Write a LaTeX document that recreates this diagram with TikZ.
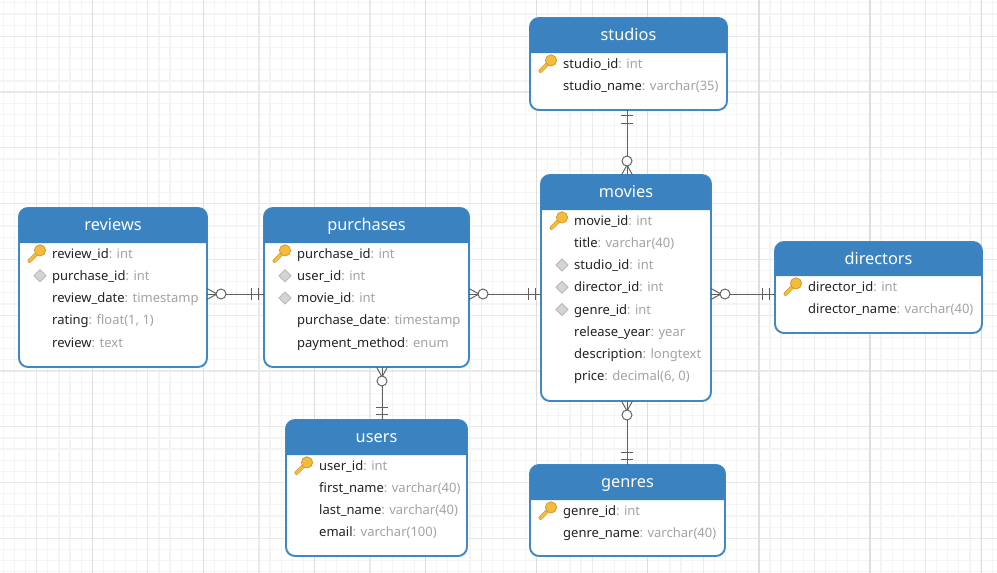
\documentclass[tikz,border=0pt]{standalone}
\usepackage{fontspec}
\setmainfont{Noto Sans}
\definecolor{hdrblue}{HTML}{3A83C0}
\definecolor{edgeblue}{HTML}{3F88C5}
\definecolor{typegrey}{HTML}{A3A3A3}
\definecolor{fieldblack}{HTML}{222222}
\definecolor{connector}{HTML}{5F5F5F}
\definecolor{keyfill}{HTML}{F3BC3E}
\definecolor{keyline}{HTML}{D6982A}
\definecolor{gridminor}{HTML}{F4F4F4}
\definecolor{gridmid}{HTML}{E9E9E9}
\definecolor{gridmajor}{HTML}{DEDEDE}
\tikzset{
  x=1pt,y=-1pt,
  tablebox/.style={draw=edgeblue,fill=white,line width=1.9pt,rounded corners=9pt,inner sep=0pt,outer sep=0pt,anchor=north west},
  titletext/.style={text=white,font=\fontsize{16.3}{18}\selectfont,inner sep=0pt,anchor=base},
  rowtext/.style={anchor=base west,inner sep=0pt,font=\fontsize{13}{15}\selectfont,text=fieldblack},
  conn/.style={draw=connector,line width=.95pt},
  pics/manyopt/.style={code={
    \draw[conn] (0,-5.5) -- (10,0) -- (0,5.5);
    \draw[conn,fill=white] (14,0) circle[radius=5];
  }},
  pics/onlyone/.style={code={
    \draw[conn] (5.5,-6) -- (5.5,6);
    \draw[conn] (13,-6) -- (13,6);
  }},
  pics/pkkey/.style={code={
    \draw[keyline,line width=4pt,line cap=round] (2,-2) -- (-7.5,7.5);
    \draw[keyfill,line width=2.7pt,line cap=round] (2,-2) -- (-7.5,7.5);
    \draw[keyline,fill=keyfill,line width=.8pt] (3,-3) circle[radius=5.6];
  }},
  pics/fkmark/.style={code={
    \draw[draw=black!28,fill=black!17,line width=.9pt] (-6,0) -- (0,-6) -- (6,0) -- (0,6) -- cycle;
  }},
}
\newcommand{\erdtable}[8]{%
  % #1 name, #2 x1, #3 y1, #4 x2, #5 y2, #6 header height, #7 text x, #8 rows
  \pgfmathsetlengthmacro{\tw}{#4-#2}%
  \pgfmathsetlengthmacro{\th}{#5-#3}%
  \node[tablebox,minimum width=\tw,minimum height=\th] (#1) at (#2,#3) {};
  \fill[hdrblue] ([yshift=-#6 pt]#1.north west) [rounded corners=9pt] -- (#1.north west) -- (#1.north east) [sharp corners] -- ([yshift=-#6 pt]#1.north east) -- cycle;
  \node[titletext] (#1title) at ([yshift=-22.5pt]#1.north) {#1};
  \foreach \kind/\field/\ftype [count=\i] in {#8} {
    \pgfmathsetmacro{\rowy}{#3+#6+10.4+22.25*(\i-1)}
    \if k\kind \pic at (#7-15,\rowy) {pkkey};\fi
    \if d\kind \pic at (#7-12,\rowy) {fkmark};\fi
    \node[rowtext] (#1row\i) at (#7,\rowy+4.6) {\field\textcolor{typegrey}{: \ftype}};
  }
}
\begin{document}
\begin{tikzpicture}
\useasboundingbox (0,0) rectangle (997,573);
\fill[white] (0,0) rectangle (997,573);
% grid
\foreach \k in {-3,...,86} {\draw[gridminor,line width=1.2pt] ({36.7+11.11*\k},0) -- ++(0,573);}
\foreach \k in {-3,...,49} {\draw[gridminor,line width=1.2pt] (0,{36.3+11.156*\k}) -- ++(997,0);}
\foreach \k in {0,...,17} {\draw[gridmid,line width=1.2pt] ({36.7+55.56*\k},0) -- ++(0,573);}
\foreach \k in {0,...,9} {\draw[gridmid,line width=1.2pt] (0,{36.3+55.78*\k}) -- ++(997,0);}
\foreach \k in {0,...,8} {\draw[gridmajor,line width=1.2pt] ({92.3+111.1*\k},0) -- ++(0,573);}
% tables
\erdtable{studios}{530}{18}{727}{110}{35}{563}{k/studio\_id/int,n/studio\_name/varchar(35)}
\erdtable{movies}{541}{175}{711}{401}{35}{574}{k/movie\_id/int,n/title/varchar(40),d/studio\_id/int,d/director\_id/int,d/genre\_id/int,n/release\_year/year,n/description/longtext,n/price/{decimal(6, 0)}}
\erdtable{reviews}{19}{208}{207}{367}{35}{52}{k/review\_id/int,d/purchase\_id/int,n/review\_date/timestamp,n/rating/{float(1, 1)},n/review/text}
\erdtable{purchases}{264}{208}{469}{367}{35}{297}{k/purchase\_id/int,d/user\_id/int,d/movie\_id/int,n/purchase\_date/timestamp,n/payment\_method/enum}
\erdtable{users}{286}{420}{467}{556}{35}{319}{k/user\_id/int,n/first\_name/varchar(40),n/last\_name/varchar(40),n/email/varchar(100)}
\erdtable{genres}{530}{465}{725}{556}{35}{563}{k/genre\_id/int,n/genre\_name/varchar(40)}
\erdtable{directors}{775}{242}{982}{333}{34}{808}{k/director\_id/int,n/director\_name/varchar(40)}
% connector reference lines
\coordinate (rowline) at (0,294);
\coordinate (colmovies) at (627,0);
\coordinate (colusers) at (382,0);
% connectors
\draw[conn] (reviews.east |- rowline) -- (purchases.west |- rowline);
\pic at (reviews.east |- rowline) {manyopt};
\pic[rotate=180] at (purchases.west |- rowline) {onlyone};
\draw[conn] (purchases.east |- rowline) -- (movies.west |- rowline);
\pic at (purchases.east |- rowline) {manyopt};
\pic[rotate=180] at (movies.west |- rowline) {onlyone};
\draw[conn] (movies.east |- rowline) -- (directors.west |- rowline);
\pic at (movies.east |- rowline) {manyopt};
\pic[rotate=180] at (directors.west |- rowline) {onlyone};
\draw[conn] (colmovies |- studios.south) -- (colmovies |- movies.north);
\pic[rotate=-90] at (colmovies |- studios.south) {onlyone};
\pic[rotate=90] at (colmovies |- movies.north) {manyopt};
\draw[conn] (colmovies |- movies.south) -- (colmovies |- genres.north);
\pic[rotate=-90] at (colmovies |- movies.south) {manyopt};
\pic[rotate=90] at (colmovies |- genres.north) {onlyone};
\draw[conn] (colusers |- purchases.south) -- (colusers |- users.north);
\pic[rotate=-90] at (colusers |- purchases.south) {manyopt};
\pic[rotate=90] at (colusers |- users.north) {onlyone};
\end{tikzpicture}
\end{document}
